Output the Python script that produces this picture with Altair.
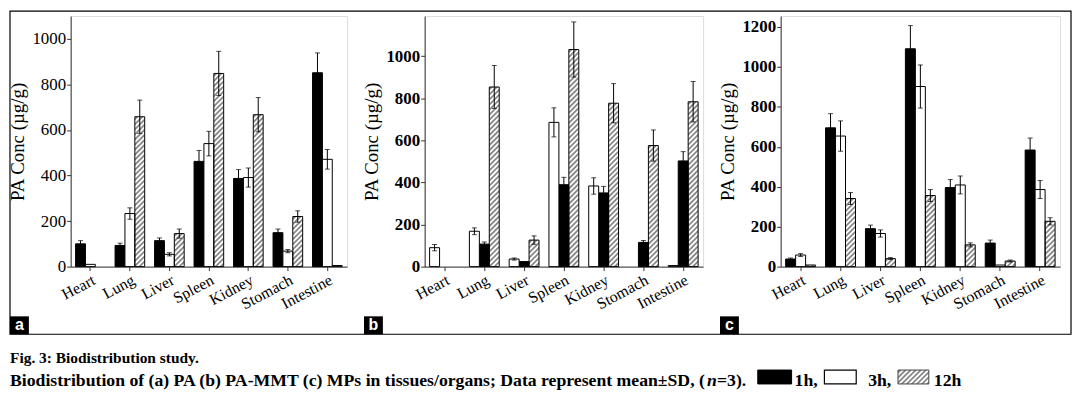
import base64
import pandas as pd
import altair as alt

organs = ["Heart", "Lung", "Liver", "Spleen", "Kidney", "Stomach", "Intestine"]

# panel a : PA
a_1h = [100, 93, 114, 462, 387, 149, 851]
a_3h = [10, 233, 54, 540, 391, 68, 471]
a_12h = [0, 658, 145, 848, 667, 220, 5]
a_1h_sd = [14, 10, 12, 48, 39, 16, 87]
a_3h_sd = [0, 25, 7, 54, 42, 7, 43]
a_12h_sd = [0, 73, 20, 97, 75, 25, 0]

# panel b : PA-MMT
b_1h = [0, 107, 24, 389, 350, 115, 502]
b_3h = [90, 168, 36, 685, 383, 0, 5]
b_12h = [0, 853, 126, 1031, 776, 575, 783]
b_1h_sd = [0, 10, 0, 35, 31, 9, 44]
b_3h_sd = [15, 16, 5, 69, 39, 0, 0]
b_12h_sd = [0, 102, 20, 131, 93, 74, 96]

# panel c : MPs
c_1h = [38, 695, 190, 1091, 396, 118, 584]
c_3h = [58, 654, 166, 902, 409, 8, 386]
c_12h = [8, 341, 40, 356, 109, 28, 227]
c_1h_sd = [5, 71, 18, 116, 40, 15, 60]
c_3h_sd = [7, 76, 18, 108, 45, 0, 45]
c_12h_sd = [0, 30, 5, 30, 10, 5, 18]

caption1 = "Fig. 3: Biodistribution study."
caption2_parts = ["Biodistribution of (a) PA (b) PA-MMT (c) MPs in tissues/organs; Data represent mean\u00b1SD, (",
                  "n", "=3)."]
legend_labels = ["1h,", "3h,", "12h"]
y_title = "PA Conc (\u00b5g/g)"

SERIF = "Liberation Serif"
SANS = "Liberation Sans"

hatch_svg = (
    '<svg xmlns="http://www.w3.org/2000/svg" width="100%" height="100%">'
    '<defs><pattern id="h" width="3.6" height="3.6" patternUnits="userSpaceOnUse" '
    'patternTransform="rotate(45)">'
    '<line x1="1.8" y1="-1" x2="1.8" y2="5" stroke="#111" stroke-width="0.9"/></pattern></defs>'
    '<rect width="100%" height="100%" fill="#fff"/>'
    '<rect width="100%" height="100%" fill="url(#h)"/></svg>'
)
HATCH = "data:image/svg+xml;base64," + base64.b64encode(hatch_svg.encode()).decode()

FILLS = {"1h": "black", "3h": "white", "12h": "transparent"}


def make_df(v1, v3, v12, s1, s3, s12):
    rows = []
    for t, vals, sds in (("1h", v1, s1), ("3h", v3, s3), ("12h", v12, s12)):
        for o, v, s in zip(organs, vals, sds):
            rows.append({"organ": o, "time": t, "value": v, "sd": s,
                         "lo": v - s, "hi": v + s, "fill": FILLS[t]})
    return pd.DataFrame(rows)


one = pd.DataFrame({"k": [0]})


def label_box(letter):
    box = alt.Chart(one).mark_rect(fill="black").encode(
        x=alt.value(-61), x2=alt.value(-42), y=alt.value(302), y2=alt.value(320))
    txt = alt.Chart(one).mark_text(
        text=letter, color="white", font=SANS, fontSize=16, fontWeight="bold",
        align="center", baseline="middle").encode(x=alt.value(-51.5), y=alt.value(311))
    return [box, txt]


def panel(df, order, ymax, yticks, bold, width, letter, title_pad, extra=None):
    yscale = alt.Scale(domain=[0, ymax], nice=False, zero=True)
    yax = alt.Axis(title=y_title, values=yticks, format="d", grid=False, labelFont=SERIF,
                   labelFontSize=17, labelFontWeight="bold" if bold else "normal",
                   labelColor="black", titleFont=SERIF, titleFontSize=19,
                   titleFontWeight="normal", titleColor="black", tickSize=4,
                   tickColor="#333", domainColor="#333", labelPadding=1,
                   titlePadding=title_pad)
    xax = alt.Axis(title=None, labelAngle=332, labelFont=SERIF, labelFontSize=16,
                   labelColor="black", tickSize=4, tickColor="#333",
                   domainColor="#333", labelPadding=1, labelAlign="right")
    base = alt.Chart(df).encode(
        x=alt.X("organ:N", sort=organs, axis=xax,
                scale=alt.Scale(paddingInner=0.25, paddingOuter=0.125)),
        xOffset=alt.XOffset("time:N", sort=order, scale=alt.Scale(domain=order)),
    )
    img = base.transform_filter(alt.datum.time == "12h").transform_filter(
        alt.datum.value > 0).mark_image(aspect=False).encode(
        y=alt.Y("value:Q", scale=yscale, axis=yax, stack=None),
        url=alt.value(HATCH))
    bars = base.transform_filter(alt.datum.value > 0).mark_bar(
        stroke="black", strokeWidth=1).encode(
        y=alt.Y("value:Q", scale=yscale, axis=yax, stack=None),
        fill=alt.Fill("fill:N", scale=None))
    err = base.transform_filter(alt.datum.sd > 0)
    rule = err.mark_rule(color="black", strokeWidth=1).encode(
        y=alt.Y("lo:Q", scale=yscale, axis=yax), y2="hi:Q")
    cap_hi = err.mark_tick(color="black", size=5, thickness=1, orient="horizontal").encode(
        y=alt.Y("hi:Q", scale=yscale, axis=yax))
    cap_lo = err.mark_tick(color="black", size=5, thickness=1, orient="horizontal").encode(
        y=alt.Y("lo:Q", scale=yscale, axis=yax))
    layers = (extra or []) + [img, bars, rule, cap_hi, cap_lo] + label_box(letter)
    return alt.layer(*layers).properties(width=width, height=252)


def caption_text(t, xp, yp, size, style="normal"):
    return alt.Chart(one).mark_text(text=t, font=SERIF, fontSize=size, fontWeight="bold",
                                    fontStyle=style, align="left", color="black").encode(
        x=alt.value(xp), y=alt.value(yp))


# decorations (outer frame, caption, legend) attached to panel a
frame = alt.Chart(one).mark_rect(fill="white", fillOpacity=0, stroke="black",
                                 strokeWidth=1.2).encode(
    x=alt.value(-61), x2=alt.value(1006), y=alt.value(-5), y2=alt.value(320))
cap1 = caption_text(caption1, -61, 344, 15.5)
cap2 = [caption_text(caption2_parts[0], -61, 367, 17.8),
        caption_text(caption2_parts[1], 640, 367, 17.8, "italic"),
        caption_text(caption2_parts[2], 650, 367, 17.8)]
sw_black = alt.Chart(one).mark_rect(fill="black", stroke="black").encode(
    x=alt.value(691), x2=alt.value(725), y=alt.value(356), y2=alt.value(370))
sw_white = alt.Chart(one).mark_rect(fill="white", stroke="black", strokeWidth=1.2).encode(
    x=alt.value(758), x2=alt.value(790), y=alt.value(356), y2=alt.value(370))
sw_hatch_img = alt.Chart(one).mark_image(aspect=False).encode(
    x=alt.value(832), x2=alt.value(863), y=alt.value(356), y2=alt.value(370),
    url=alt.value(HATCH))
sw_hatch = alt.Chart(one).mark_rect(fill="white", fillOpacity=0, stroke="#444").encode(
    x=alt.value(832), x2=alt.value(863), y=alt.value(356), y2=alt.value(370))
leg_txt = [caption_text(t, xp, 367, 17.8) for t, xp in zip(legend_labels, [728, 802, 868])]
decor = [frame, cap1] + cap2 + [sw_black, sw_white, sw_hatch_img, sw_hatch] + leg_txt

pa = panel(make_df(a_1h, a_3h, a_12h, a_1h_sd, a_3h_sd, a_12h_sd),
           ["1h", "3h", "12h"], 1100, [0, 200, 400, 600, 800, 1000], False, 278, "a", 4,
           extra=decor)
pb = panel(make_df(b_1h, b_3h, b_12h, b_1h_sd, b_3h_sd, b_12h_sd),
           ["3h", "1h", "12h"], 1190, [0, 200, 400, 600, 800, 1000], True, 280, "b", 4)
pc = panel(make_df(c_1h, c_3h, c_12h, c_1h_sd, c_3h_sd, c_12h_sd),
           ["1h", "3h", "12h"], 1255, [0, 200, 400, 600, 800, 1000, 1200], True, 281, "c", 4)

chart = alt.hconcat(pa, pb, pc, spacing=78, bounds="flush").resolve_scale(
    xOffset="independent", y="independent", x="independent"
).properties(
    padding=0
).configure_view(stroke="#333", strokeWidth=1.2).configure(background="white")

chart.save("out.html", embed_options={"renderer": "svg", "actions": False})
